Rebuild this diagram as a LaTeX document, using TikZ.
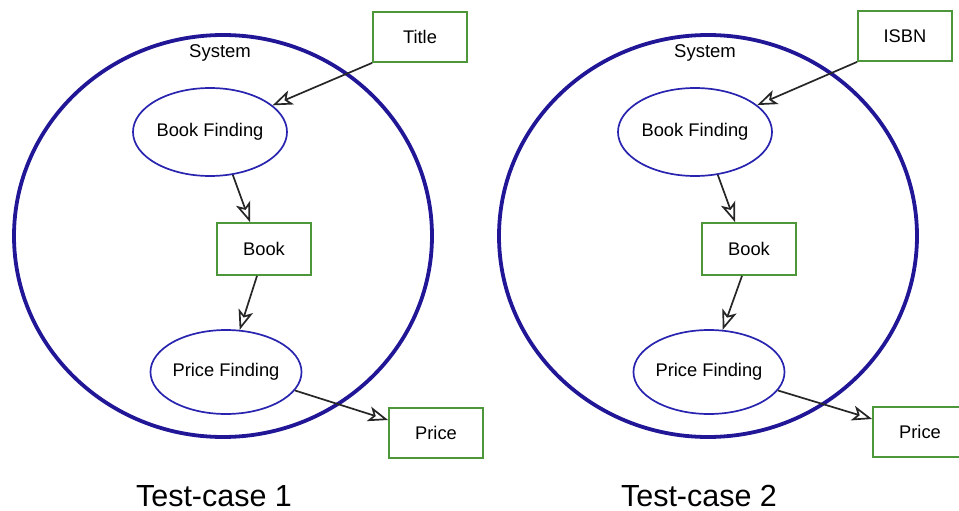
\documentclass[tikz,border=0pt]{standalone}
\usepackage{fontspec}
\setmainfont{Liberation Sans}
\usetikzlibrary{arrows.meta,shapes.geometric,calc}

\definecolor{sysblue}{RGB}{32,22,150}
\definecolor{procblue}{RGB}{40,36,175}
\definecolor{databox}{RGB}{78,150,58}

\tikzset{
  sysring/.style={draw=sysblue, line width=3.8pt, ellipse, inner sep=0pt,
                  minimum width=418pt, minimum height=402pt},
  process/.style={draw=procblue, line width=1.7pt, ellipse, inner sep=0pt,
                  minimum width=154pt, minimum height=88pt, font=\fontsize{18.3}{20}\selectfont},
  pricefind/.style={process, minimum width=142pt, minimum height=84pt},
  datum/.style={draw=databox, line width=1.8pt, fill=white, inner sep=0pt,
                minimum width=94pt, minimum height=50pt, font=\fontsize{18.3}{20}\selectfont},
  flow/.style={draw=black!85, line width=1.7pt,
               -{Stealth[open, length=20pt, width=15pt, inset=5pt, fill=white]}},
  caption/.style={font=\fontsize{30.5}{32}\selectfont, inner sep=0pt, anchor=base},
  syslabel/.style={font=\fontsize{18.5}{20}\selectfont}
}

\begin{document}
\begin{tikzpicture}[x=1pt, y=-1pt]
  \useasboundingbox (0,0) rectangle (959,511);

  % ---------- first test case: lookup by title ----------
  \node[sysring] (sysA) at (223,236) {};
  \node[syslabel] (sysAlabel) at (220,53) {System};
  \node[process] (bfA) at (210,132) {Book Finding};
  \node[datum, minimum height=52pt] (bookA) at (264,249) {Book};
  \node[pricefind] (pfA) at (226,372) {Price Finding};
  \node[datum] (titleA) at (420,37) {Title};
  \node[datum] (priceA) at (436,433) {Price};

  \draw[flow] (titleA.south west) -- (bfA);
  \draw[flow] (bfA.-62) -- ($(bookA.north)+(-14,0)$);
  \draw[flow] ($(bookA.south)+(-7,0)$) -- (pfA.72);
  \draw[flow] (pfA.-15) -- ($(priceA.west)+(0,-13)$);

  \node[caption] (capA) at (214,506) {Test-case 1};

  % ---------- second test case: lookup by ISBN ----------
  \node[sysring] (sysB) at (708,236) {};
  \node[syslabel] (sysBlabel) at (705,53) {System};
  \node[process] (bfB) at (695,132) {Book Finding};
  \node[datum, minimum height=52pt] (bookB) at (749,249) {Book};
  \node[pricefind] (pfB) at (709,372) {Price Finding};
  \node[datum] (isbnB) at (905,36) {ISBN};
  \node[datum] (priceB) at (920,432) {Price};

  \draw[flow] (isbnB.south west) -- (bfB);
  \draw[flow] (bfB.-62) -- ($(bookB.north)+(-14,0)$);
  \draw[flow] ($(bookB.south)+(-7,0)$) -- (pfB.72);
  \draw[flow] (pfB.-15) -- ($(priceB.west)+(0,-13)$);

  \node[caption] (capB) at (699,506) {Test-case 2};
\end{tikzpicture}
\end{document}
